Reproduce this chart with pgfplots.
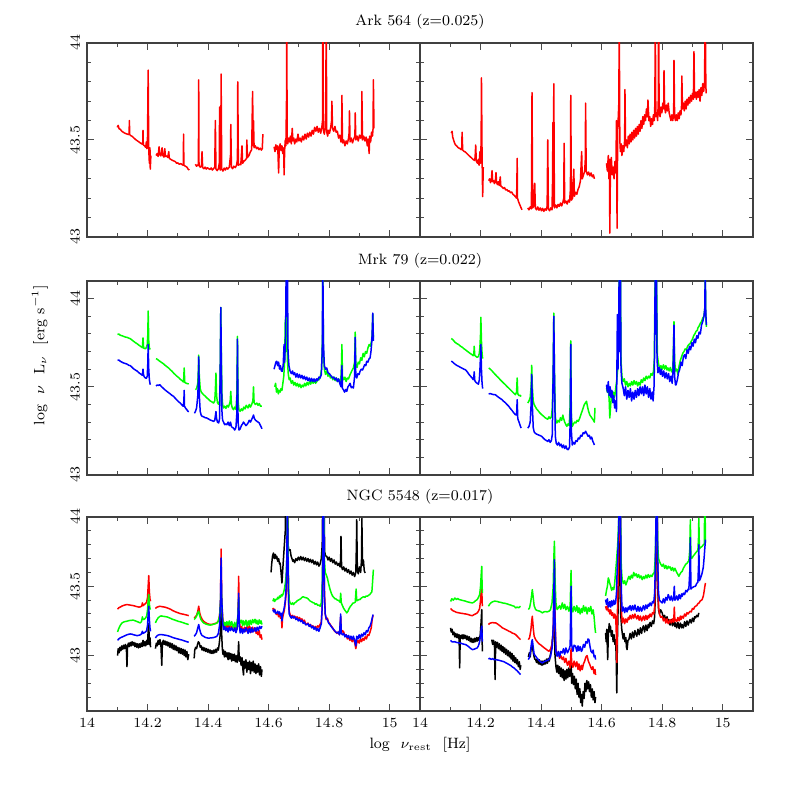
\documentclass[border=0pt]{standalone}
\usepackage{pgfplots}
\pgfplotsset{compat=1.18}

\pgfplotsset{
  panel/.style={
    scale only axis, width=166.5pt, height=97pt,
    xmin=14, xmax=15.1,
    xtick={14,14.2,14.4,14.6,14.8,15},
    minor xtick={14.1,14.3,14.5,14.7,14.9},
    xticklabels={}, yticklabels={},
    major tick length=3.5pt, minor tick length=1.8pt,
    tick style={black!70, line width=0.5pt},
    axis line style={black!75, line width=0.55pt},
    unbounded coords=jump,
    every axis plot/.append style={line width=0.75pt, line join=round},
    tick label style={font=\fontsize{7}{8}\selectfont},
    yticklabel style={rotate=90, anchor=south},
  },
  rowtop/.style={ymin=43, ymax=44, ytick={43,43.5,44},
    minor ytick={43.1,43.2,43.3,43.4,43.6,43.7,43.8,43.9}},
  rowmid/.style={ymin=43, ymax=44.1, ytick={43,43.5,44},
    minor ytick={43.1,43.2,43.3,43.4,43.6,43.7,43.8,43.9}},
  rowbot/.style={ymin=42.6, ymax=44, ytick={43,43.5,44},
    minor ytick={42.7,42.8,42.9,43.1,43.2,43.3,43.4,43.6,43.7,43.8,43.9}},
  ylab/.style={yticklabels={43,43.5,44}},
  xlab/.style={xticklabels={14,14.2,14.4,14.6,14.8,15}},
}

\begin{document}
\begin{tikzpicture}
\path[use as bounding box] (0,0) rectangle (398.5pt,398.5pt);

% ---------- Ark 564 ----------
\begin{axis}[panel, rowtop, ylab, at={(43.5pt,280pt)}, anchor=south west]
\addplot[red] coordinates {
(14.100,43.565)(14.103,43.575)(14.106,43.558)(14.110,43.555)(14.115,43.545)(14.120,43.540)(14.125,43.535)(14.130,43.532)(14.137,43.528)(14.139,43.530)(14.140,43.600)(14.141,43.528)(14.145,43.522)(14.150,43.518)(14.155,43.510)(14.160,43.503)(14.165,43.497)(14.170,43.492)(14.175,43.486)(14.180,43.481)(14.184,43.478)(14.185,43.550)(14.186,43.475)(14.190,43.470)(14.194,43.462)(14.196,43.490)(14.198,43.455)(14.200,43.520)(14.202,43.860)(14.204,43.450)(14.206,43.380)(14.208,43.460)(14.209,43.350)(14.211,43.420)
(14.215,nan)
(14.228,43.420)(14.232,43.430)(14.235,43.415)(14.238,43.465)(14.240,43.425)(14.244,43.418)(14.248,43.460)(14.250,43.422)(14.254,43.412)(14.257,43.455)(14.259,43.415)(14.263,43.418)(14.267,43.410)(14.270,43.440)(14.272,43.405)(14.277,43.400)(14.282,43.395)(14.287,43.392)(14.292,43.388)(14.296,43.380)(14.300,43.382)(14.305,43.375)(14.310,43.378)(14.315,43.372)(14.318,43.370)(14.319,43.530)(14.320,43.370)(14.325,43.365)(14.330,43.360)(14.334,43.350)(14.338,43.345)
(14.345,nan)
(14.358,43.375)(14.362,43.365)(14.366,43.372)(14.368,43.370)(14.369,43.810)(14.370,43.368)(14.374,43.360)(14.378,43.365)(14.380,43.440)(14.382,43.358)(14.386,43.352)(14.390,43.360)(14.394,43.350)(14.398,43.357)(14.402,43.352)(14.406,43.348)(14.410,43.356)(14.414,43.345)(14.418,43.352)(14.422,43.360)(14.424,43.600)(14.426,43.350)(14.430,43.342)(14.434,43.352)(14.437,43.380)(14.438,43.670)(14.440,43.345)(14.442,43.400)(14.443,43.840)(14.445,43.350)(14.449,43.340)(14.453,43.355)(14.457,43.345)(14.461,43.358)(14.465,43.350)(14.470,43.360)(14.474,43.420)(14.475,43.580)(14.477,43.360)(14.481,43.352)(14.485,43.365)(14.490,43.358)(14.494,43.370)(14.497,43.400)(14.498,43.800)(14.500,43.370)(14.504,43.375)(14.508,43.372)(14.512,43.470)(14.514,43.380)(14.518,43.390)(14.522,43.395)(14.527,43.405)(14.528,43.500)(14.530,43.410)(14.535,43.420)(14.540,43.440)(14.544,43.450)(14.547,43.750)(14.549,43.470)(14.550,43.600)(14.552,43.460)(14.556,43.470)(14.560,43.455)(14.564,43.462)(14.568,43.450)(14.572,43.458)(14.576,43.448)(14.579,43.455)(14.581,43.530)
(14.600,nan)
(14.618,43.465)(14.621,43.440)(14.624,43.475)(14.627,43.450)(14.630,43.470)(14.633,43.330)(14.635,43.455)(14.638,43.480)(14.641,43.445)(14.644,43.470)(14.647,43.430)(14.650,43.460)(14.651,43.320)(14.653,43.450)(14.655,43.500)(14.657,43.470)(14.659,43.700)(14.660,44.200)(14.661,43.520)(14.663,43.480)(14.666,43.510)(14.669,43.490)(14.672,43.520)(14.675,43.480)(14.678,43.560)(14.680,43.495)(14.683,43.510)(14.686,43.480)(14.690,43.505)(14.693,43.490)(14.697,43.530)(14.700,43.495)(14.704,43.510)(14.708,43.490)(14.712,43.520)(14.716,43.500)(14.720,43.530)(14.724,43.505)(14.728,43.535)(14.732,43.515)(14.736,43.540)(14.740,43.520)(14.744,43.550)(14.748,43.530)(14.752,43.565)(14.756,43.545)(14.760,43.570)(14.764,43.540)(14.768,43.560)(14.772,43.535)(14.776,43.570)(14.778,43.600)(14.779,44.200)(14.781,43.550)(14.784,43.530)(14.787,43.560)(14.789,43.650)(14.790,44.200)(14.792,43.540)(14.795,43.520)(14.798,43.550)(14.801,43.535)(14.805,43.565)(14.808,43.600)(14.809,43.700)(14.811,43.560)(14.815,43.545)(14.819,43.570)(14.823,43.540)(14.827,43.545)(14.831,43.510)(14.835,43.525)(14.839,43.490)(14.841,43.500)(14.842,43.730)(14.844,43.485)(14.848,43.500)(14.852,43.470)(14.856,43.495)(14.860,43.480)(14.864,43.510)(14.866,43.540)(14.867,43.650)(14.869,43.490)(14.873,43.510)(14.877,43.485)(14.881,43.505)(14.885,43.520)(14.886,43.640)(14.888,43.500)(14.892,43.520)(14.896,43.495)(14.900,43.525)(14.904,43.510)(14.907,43.530)(14.908,43.750)(14.910,43.500)(14.914,43.520)(14.918,43.495)(14.922,43.515)(14.926,43.470)(14.929,43.505)(14.932,43.430)(14.934,43.520)(14.937,43.490)(14.940,43.540)(14.943,43.520)(14.945,43.560)(14.946,43.810)(14.948,43.560)
};
\end{axis}

\begin{axis}[panel, rowtop, at={(210pt,280pt)}, anchor=south west]
\addplot[red] coordinates {
(14.103,43.535)(14.106,43.545)(14.108,43.515)(14.111,43.500)(14.114,43.485)(14.117,43.475)(14.121,43.470)(14.125,43.462)(14.129,43.458)(14.133,43.455)(14.136,43.450)(14.138,43.460)(14.139,43.540)(14.141,43.448)(14.145,43.442)(14.150,43.438)(14.155,43.430)(14.160,43.422)(14.165,43.415)(14.170,43.408)(14.175,43.400)(14.180,43.395)(14.182,43.410)(14.184,43.474)(14.186,43.390)(14.190,43.380)(14.193,43.400)(14.195,43.370)(14.198,43.440)(14.200,43.380)(14.202,43.500)(14.203,43.820)(14.205,43.420)(14.207,43.208)(14.209,43.360)
(14.215,nan)
(14.227,43.290)(14.230,43.300)(14.233,43.280)(14.236,43.300)(14.238,43.342)(14.240,43.285)(14.243,43.290)(14.246,43.275)(14.249,43.290)(14.251,43.332)(14.253,43.280)(14.256,43.270)(14.259,43.285)(14.262,43.265)(14.265,43.310)(14.267,43.262)(14.271,43.258)(14.275,43.250)(14.279,43.255)(14.283,43.242)(14.287,43.245)(14.291,43.236)(14.295,43.238)(14.299,43.228)(14.303,43.232)(14.307,43.220)(14.311,43.215)(14.315,43.208)(14.319,43.200)(14.320,43.280)(14.321,43.405)(14.322,43.200)(14.326,43.180)(14.330,43.165)(14.334,43.150)(14.337,43.140)
(14.345,nan)
(14.356,43.150)(14.360,43.140)(14.364,43.155)(14.368,43.145)(14.370,43.744)(14.372,43.150)(14.376,43.160)(14.379,43.277)(14.381,43.150)(14.385,43.140)(14.389,43.155)(14.393,43.138)(14.397,43.150)(14.401,43.135)(14.405,43.148)(14.409,43.132)(14.413,43.145)(14.417,43.138)(14.420,43.160)(14.422,43.500)(14.424,43.145)(14.428,43.135)(14.432,43.150)(14.436,43.140)(14.438,43.300)(14.439,43.590)(14.440,43.160)(14.442,43.790)(14.444,43.150)(14.448,43.165)(14.452,43.150)(14.456,43.168)(14.460,43.158)(14.464,43.175)(14.468,43.160)(14.472,43.180)(14.475,43.200)(14.476,43.483)(14.478,43.175)(14.482,43.185)(14.486,43.170)(14.490,43.190)(14.494,43.180)(14.497,43.250)(14.498,43.730)(14.500,43.190)(14.504,43.200)(14.508,43.350)(14.510,43.210)(14.514,43.230)(14.518,43.220)(14.522,43.245)(14.526,43.260)(14.530,43.290)(14.534,43.440)(14.536,43.300)(14.540,43.320)(14.544,43.340)(14.546,43.400)(14.547,43.690)(14.549,43.340)(14.553,43.320)(14.557,43.335)(14.561,43.315)(14.565,43.330)(14.569,43.310)(14.573,43.320)(14.576,43.300)
(14.600,nan)
(14.616,43.380)(14.619,43.340)(14.622,43.420)(14.624,43.300)(14.626,43.400)(14.627,43.020)(14.629,43.350)(14.632,43.410)(14.635,43.320)(14.638,43.360)(14.641,43.300)(14.644,43.390)(14.647,43.330)(14.649,43.600)(14.651,43.045)(14.653,43.550)(14.655,43.620)(14.657,43.700)(14.658,44.200)(14.660,43.500)(14.662,43.440)(14.665,43.480)(14.667,43.420)(14.670,43.470)(14.673,43.440)(14.676,43.500)(14.677,43.760)(14.679,43.470)(14.682,43.500)(14.685,43.460)(14.688,43.520)(14.691,43.480)(14.694,43.530)(14.697,43.490)(14.700,43.540)(14.703,43.500)(14.706,43.550)(14.709,43.510)(14.712,43.560)(14.715,43.520)(14.718,43.570)(14.721,43.530)(14.724,43.580)(14.727,43.545)(14.730,43.600)(14.733,43.560)(14.736,43.620)(14.739,43.580)(14.742,43.630)(14.745,43.600)(14.748,43.660)(14.751,43.620)(14.753,43.706)(14.756,43.600)(14.759,43.620)(14.762,43.570)(14.765,43.610)(14.768,43.580)(14.771,43.630)(14.774,43.600)(14.776,43.700)(14.777,44.200)(14.779,43.620)(14.782,43.640)(14.785,43.600)(14.787,43.700)(14.788,44.200)(14.790,43.640)(14.793,43.620)(14.796,43.670)(14.799,43.640)(14.802,43.690)(14.805,43.660)(14.806,43.857)(14.808,43.670)(14.811,43.640)(14.814,43.680)(14.817,43.650)(14.820,43.690)(14.823,43.640)(14.826,43.620)(14.829,43.600)(14.832,43.630)(14.835,43.600)(14.838,43.640)(14.839,43.910)(14.841,43.620)(14.844,43.600)(14.847,43.630)(14.850,43.600)(14.853,43.640)(14.856,43.610)(14.859,43.650)(14.862,43.630)(14.864,43.680)(14.865,43.830)(14.867,43.660)(14.870,43.690)(14.873,43.650)(14.876,43.700)(14.879,43.660)(14.882,43.710)(14.885,43.680)(14.888,43.720)(14.891,43.690)(14.894,43.730)(14.897,43.700)(14.900,43.740)(14.903,43.710)(14.905,43.955)(14.907,43.720)(14.910,43.745)(14.913,43.710)(14.916,43.750)(14.919,43.720)(14.922,43.760)(14.925,43.700)(14.928,43.770)(14.931,43.730)(14.934,43.790)(14.937,43.750)(14.940,43.800)(14.942,44.200)(14.944,43.820)(14.945,43.740)
};
\end{axis}

% ---------- Mrk 79 ----------
\begin{axis}[panel, rowmid, ylab, at={(43.5pt,161pt)}, anchor=south west]
\addplot[green] coordinates {
(14.101,43.796)(14.105,43.800)(14.110,43.792)(14.115,43.790)(14.121,43.786)(14.127,43.782)(14.133,43.780)(14.138,43.776)(14.143,43.773)(14.148,43.766)(14.154,43.758)(14.160,43.750)(14.165,43.745)(14.170,43.738)(14.175,43.732)(14.180,43.726)(14.183,43.722)(14.185,43.777)(14.187,43.720)(14.190,43.718)(14.193,43.716)(14.196,43.722)(14.199,43.740)(14.201,43.800)(14.202,43.930)(14.204,43.760)(14.206,43.720)(14.209,43.712)
(14.215,nan)
(14.228,43.660)(14.233,43.655)(14.238,43.648)(14.243,43.642)(14.248,43.636)(14.253,43.630)(14.258,43.622)(14.264,43.614)(14.270,43.606)(14.275,43.597)(14.281,43.588)(14.286,43.578)(14.292,43.568)(14.297,43.560)(14.303,43.552)(14.308,43.543)(14.314,43.535)(14.319,43.527)(14.321,43.607)(14.323,43.525)(14.328,43.520)(14.332,43.518)(14.336,43.516)
(14.345,nan)
(14.358,43.484)(14.362,43.490)(14.366,43.520)(14.368,43.600)(14.369,43.680)(14.371,43.560)(14.374,43.490)(14.377,43.472)(14.380,43.465)(14.385,43.455)(14.390,43.448)(14.396,43.437)(14.401,43.430)(14.407,43.420)(14.413,43.414)(14.418,43.408)(14.422,43.420)(14.424,43.480)(14.426,43.578)(14.428,43.450)(14.431,43.410)(14.435,43.400)(14.438,43.420)(14.440,43.600)(14.442,43.950)(14.444,43.650)(14.446,43.450)(14.448,43.400)(14.451,43.380)(14.455,43.390)(14.459,43.378)(14.463,43.395)(14.467,43.385)(14.471,43.405)(14.473,43.418)(14.475,43.474)(14.477,43.400)(14.480,43.380)(14.484,43.370)(14.488,43.385)(14.492,43.372)(14.495,43.450)(14.497,43.786)(14.499,43.420)(14.502,43.370)(14.506,43.361)(14.510,43.375)(14.514,43.365)(14.518,43.385)(14.522,43.375)(14.526,43.395)(14.528,43.390)(14.532,43.380)(14.536,43.400)(14.540,43.385)(14.544,43.400)(14.548,43.420)(14.550,43.500)(14.552,43.410)(14.556,43.400)(14.561,43.408)(14.565,43.395)(14.569,43.405)(14.573,43.390)(14.578,43.390)
(14.600,nan)
(14.620,43.500)(14.623,43.520)(14.626,43.470)(14.629,43.490)(14.632,43.460)(14.635,43.480)(14.638,43.470)(14.641,43.490)(14.644,43.480)(14.647,43.520)(14.650,43.560)(14.653,43.650)(14.655,43.880)(14.657,43.700)(14.659,43.900)(14.660,44.200)(14.662,43.650)(14.665,43.570)(14.668,43.540)(14.671,43.550)(14.675,43.520)(14.679,43.535)(14.683,43.510)(14.687,43.525)(14.691,43.505)(14.695,43.520)(14.699,43.500)(14.703,43.515)(14.707,43.495)(14.711,43.510)(14.715,43.500)(14.719,43.520)(14.723,43.505)(14.727,43.525)(14.731,43.510)(14.735,43.530)(14.739,43.515)(14.743,43.535)(14.747,43.520)(14.751,43.535)(14.755,43.520)(14.759,43.530)(14.763,43.545)(14.767,43.540)(14.771,43.560)(14.775,43.600)(14.778,43.800)(14.779,44.200)(14.781,43.700)(14.784,43.600)(14.788,43.570)(14.792,43.590)(14.796,43.560)(14.800,43.575)(14.804,43.550)(14.808,43.560)(14.812,43.540)(14.816,43.555)(14.820,43.535)(14.824,43.550)(14.828,43.530)(14.832,43.540)(14.836,43.520)(14.839,43.560)(14.841,43.640)(14.842,43.740)(14.844,43.560)(14.848,43.540)(14.852,43.555)(14.856,43.530)(14.860,43.550)(14.864,43.545)(14.868,43.565)(14.872,43.580)(14.876,43.595)(14.880,43.607)(14.884,43.640)(14.886,43.810)(14.888,43.620)(14.892,43.610)(14.896,43.640)(14.900,43.630)(14.904,43.665)(14.908,43.650)(14.912,43.690)(14.916,43.670)(14.920,43.700)(14.924,43.690)(14.928,43.720)(14.932,43.740)(14.936,43.730)(14.940,43.760)(14.942,43.800)(14.944,43.910)(14.946,43.780)
};
\addplot[blue] coordinates {
(14.101,43.650)(14.105,43.652)(14.110,43.645)(14.115,43.640)(14.121,43.635)(14.127,43.632)(14.133,43.628)(14.138,43.622)(14.143,43.620)(14.148,43.612)(14.154,43.602)(14.160,43.595)(14.165,43.590)(14.170,43.582)(14.175,43.575)(14.180,43.570)(14.183,43.565)(14.185,43.600)(14.187,43.565)(14.190,43.555)(14.193,43.550)(14.196,43.548)(14.199,43.560)(14.201,43.640)(14.202,43.740)(14.204,43.600)(14.206,43.540)(14.208,43.520)(14.209,43.512)
(14.215,nan)
(14.228,43.505)(14.232,43.510)(14.236,43.508)(14.240,43.512)(14.244,43.505)(14.248,43.498)(14.253,43.490)(14.258,43.482)(14.264,43.474)(14.270,43.466)(14.275,43.460)(14.280,43.452)(14.286,43.446)(14.291,43.436)(14.297,43.425)(14.302,43.416)(14.308,43.408)(14.313,43.398)(14.318,43.390)(14.320,43.420)(14.321,43.480)(14.322,43.390)(14.326,43.378)(14.330,43.370)(14.333,43.362)(14.336,43.358)
(14.345,nan)
(14.355,43.350)(14.358,43.360)(14.362,43.380)(14.366,43.450)(14.368,43.550)(14.369,43.670)(14.371,43.450)(14.374,43.360)(14.377,43.340)(14.380,43.333)(14.385,43.330)(14.390,43.325)(14.396,43.323)(14.401,43.318)(14.407,43.312)(14.413,43.308)(14.418,43.304)(14.422,43.310)(14.426,43.360)(14.428,43.320)(14.431,43.300)(14.435,43.295)(14.438,43.320)(14.440,43.600)(14.442,43.950)(14.444,43.600)(14.446,43.350)(14.448,43.310)(14.451,43.300)(14.455,43.285)(14.459,43.290)(14.462,43.285)(14.466,43.300)(14.470,43.280)(14.474,43.300)(14.477,43.275)(14.480,43.270)(14.484,43.266)(14.488,43.255)(14.492,43.270)(14.495,43.350)(14.497,43.770)(14.499,43.300)(14.502,43.255)(14.506,43.262)(14.510,43.280)(14.514,43.290)(14.517,43.300)(14.521,43.290)(14.525,43.280)(14.528,43.285)(14.532,43.295)(14.536,43.310)(14.540,43.300)(14.544,43.315)(14.548,43.330)(14.550,43.340)(14.553,43.320)(14.557,43.310)(14.561,43.305)(14.565,43.300)(14.569,43.295)(14.573,43.280)(14.576,43.270)(14.578,43.262)
(14.600,nan)
(14.618,43.600)(14.621,43.620)(14.624,43.640)(14.627,43.645)(14.630,43.620)(14.633,43.640)(14.636,43.600)(14.639,43.620)(14.642,43.590)(14.645,43.588)(14.648,43.620)(14.651,43.740)(14.653,43.640)(14.656,43.800)(14.658,44.200)(14.660,43.900)(14.662,44.200)(14.664,43.700)(14.667,43.620)(14.671,43.588)(14.675,43.575)(14.679,43.590)(14.682,43.569)(14.686,43.580)(14.690,43.555)(14.694,43.575)(14.698,43.552)(14.702,43.570)(14.706,43.550)(14.710,43.565)(14.714,43.545)(14.718,43.560)(14.722,43.540)(14.726,43.555)(14.730,43.535)(14.734,43.550)(14.738,43.530)(14.742,43.548)(14.746,43.530)(14.750,43.545)(14.754,43.528)(14.758,43.545)(14.762,43.535)(14.766,43.555)(14.770,43.550)(14.774,43.570)(14.777,43.700)(14.779,44.200)(14.781,43.750)(14.784,43.620)(14.788,43.600)(14.792,43.607)(14.796,43.580)(14.800,43.575)(14.803,43.569)(14.807,43.560)(14.811,43.550)(14.815,43.555)(14.819,43.540)(14.823,43.550)(14.827,43.530)(14.831,43.545)(14.835,43.520)(14.839,43.500)(14.842,43.620)(14.844,43.490)(14.847,43.484)(14.851,43.470)(14.855,43.485)(14.858,43.474)(14.862,43.500)(14.866,43.510)(14.869,43.520)(14.873,43.495)(14.877,43.500)(14.880,43.493)(14.884,43.560)(14.886,43.780)(14.888,43.560)(14.891,43.550)(14.895,43.575)(14.899,43.570)(14.902,43.588)(14.906,43.600)(14.910,43.595)(14.913,43.607)(14.917,43.625)(14.921,43.620)(14.924,43.645)(14.928,43.640)(14.932,43.660)(14.935,43.663)(14.938,43.700)(14.941,43.760)(14.943,43.860)(14.944,43.918)(14.946,43.760)
};
\end{axis}

\begin{axis}[panel, rowmid, at={(210pt,161pt)}, anchor=south west]
\addplot[green] coordinates {
(14.103,43.773)(14.107,43.770)(14.111,43.762)(14.116,43.752)(14.121,43.746)(14.128,43.739)(14.134,43.730)(14.140,43.724)(14.145,43.716)(14.150,43.710)(14.156,43.702)(14.162,43.694)(14.167,43.688)(14.172,43.682)(14.176,43.676)(14.178,43.690)(14.179,43.730)(14.181,43.678)(14.185,43.672)(14.189,43.667)(14.193,43.672)(14.196,43.690)(14.198,43.730)(14.200,43.800)(14.201,43.894)(14.203,43.760)(14.205,43.690)(14.207,43.660)
(14.215,nan)
(14.227,43.607)(14.232,43.600)(14.238,43.590)(14.243,43.580)(14.249,43.569)(14.254,43.560)(14.260,43.550)(14.265,43.540)(14.271,43.530)(14.276,43.521)(14.282,43.512)(14.287,43.502)(14.293,43.493)(14.298,43.484)(14.304,43.474)(14.309,43.465)(14.315,43.455)(14.319,43.470)(14.321,43.550)(14.323,43.460)(14.327,43.450)(14.331,43.452)(14.334,43.445)
(14.345,nan)
(14.356,43.408)(14.360,43.420)(14.364,43.440)(14.367,43.500)(14.369,43.622)(14.371,43.500)(14.374,43.420)(14.377,43.400)(14.380,43.390)(14.385,43.375)(14.390,43.365)(14.396,43.352)(14.402,43.342)(14.407,43.335)(14.413,43.325)(14.418,43.320)(14.422,43.316)(14.426,43.330)(14.430,43.320)(14.434,43.330)(14.437,43.380)(14.440,43.600)(14.442,43.918)(14.444,43.600)(14.447,43.330)(14.450,43.300)(14.452,43.295)(14.456,43.310)(14.460,43.300)(14.464,43.325)(14.468,43.310)(14.472,43.340)(14.474,43.322)(14.478,43.300)(14.482,43.285)(14.485,43.276)(14.489,43.290)(14.493,43.280)(14.496,43.400)(14.498,43.760)(14.500,43.330)(14.503,43.276)(14.507,43.290)(14.511,43.300)(14.515,43.295)(14.519,43.310)(14.523,43.304)(14.527,43.320)(14.531,43.340)(14.535,43.360)(14.539,43.380)(14.543,43.400)(14.547,43.410)(14.550,43.418)(14.553,43.390)(14.557,43.360)(14.561,43.340)(14.565,43.330)(14.569,43.320)(14.573,43.310)(14.576,43.300)(14.578,43.380)
(14.600,nan)
(14.616,43.493)(14.619,43.470)(14.622,43.500)(14.625,43.420)(14.627,43.323)(14.630,43.400)(14.633,43.460)(14.636,43.430)(14.639,43.470)(14.642,43.440)(14.644,43.455)(14.647,43.500)(14.650,43.540)(14.653,43.600)(14.656,43.800)(14.658,44.200)(14.660,43.900)(14.662,44.200)(14.664,43.650)(14.667,43.560)(14.671,43.530)(14.675,43.545)(14.679,43.510)(14.683,43.530)(14.687,43.500)(14.691,43.520)(14.695,43.505)(14.699,43.530)(14.703,43.510)(14.707,43.535)(14.711,43.515)(14.715,43.530)(14.719,43.505)(14.723,43.525)(14.727,43.510)(14.731,43.540)(14.735,43.525)(14.739,43.550)(14.743,43.535)(14.747,43.560)(14.751,43.545)(14.755,43.560)(14.759,43.550)(14.763,43.575)(14.767,43.565)(14.771,43.585)(14.774,43.650)(14.777,44.200)(14.779,43.800)(14.781,44.200)(14.784,43.680)(14.788,43.630)(14.792,43.600)(14.796,43.620)(14.800,43.600)(14.804,43.625)(14.808,43.600)(14.812,43.620)(14.816,43.595)(14.819,43.607)(14.823,43.590)(14.827,43.610)(14.831,43.585)(14.835,43.600)(14.837,43.700)(14.839,43.870)(14.841,43.650)(14.844,43.590)(14.848,43.600)(14.852,43.570)(14.856,43.620)(14.860,43.650)(14.864,43.670)(14.868,43.690)(14.872,43.700)(14.876,43.715)(14.880,43.710)(14.884,43.730)(14.888,43.740)(14.892,43.745)(14.896,43.758)(14.900,43.770)(14.904,43.790)(14.908,43.800)(14.912,43.815)(14.916,43.820)(14.918,43.834)(14.922,43.845)(14.926,43.860)(14.930,43.870)(14.934,43.890)(14.938,43.900)(14.941,43.950)(14.942,44.200)(14.944,43.900)(14.946,43.840)
};
\addplot[blue] coordinates {
(14.103,43.645)(14.107,43.642)(14.111,43.635)(14.116,43.628)(14.121,43.622)(14.128,43.616)(14.134,43.610)(14.140,43.605)(14.145,43.600)(14.150,43.597)(14.156,43.585)(14.162,43.570)(14.167,43.560)(14.172,43.550)(14.176,43.540)(14.178,43.560)(14.179,43.585)(14.181,43.535)(14.185,43.525)(14.189,43.520)(14.193,43.515)(14.196,43.540)(14.198,43.600)(14.200,43.680)(14.201,43.740)(14.203,43.600)(14.205,43.520)(14.207,43.490)
(14.215,nan)
(14.227,43.459)(14.232,43.462)(14.238,43.458)(14.243,43.456)(14.249,43.455)(14.254,43.448)(14.260,43.440)(14.265,43.434)(14.271,43.427)(14.276,43.418)(14.282,43.410)(14.287,43.400)(14.293,43.390)(14.298,43.378)(14.304,43.366)(14.309,43.354)(14.315,43.342)(14.319,43.340)(14.321,43.427)(14.323,43.320)(14.327,43.300)(14.331,43.280)(14.334,43.266)
(14.345,nan)
(14.356,43.266)(14.360,43.275)(14.364,43.300)(14.367,43.400)(14.369,43.570)(14.371,43.400)(14.374,43.270)(14.377,43.245)(14.380,43.238)(14.385,43.232)(14.390,43.228)(14.396,43.224)(14.402,43.219)(14.407,43.210)(14.413,43.200)(14.418,43.195)(14.422,43.190)(14.426,43.200)(14.430,43.185)(14.434,43.195)(14.437,43.230)(14.440,43.600)(14.442,43.900)(14.444,43.600)(14.447,43.220)(14.450,43.180)(14.454,43.170)(14.458,43.185)(14.462,43.165)(14.466,43.175)(14.470,43.155)(14.474,43.170)(14.478,43.150)(14.482,43.165)(14.486,43.145)(14.490,43.144)(14.494,43.160)(14.496,43.300)(14.498,43.740)(14.500,43.250)(14.503,43.170)(14.507,43.185)(14.511,43.175)(14.515,43.195)(14.519,43.190)(14.523,43.210)(14.527,43.205)(14.531,43.225)(14.535,43.220)(14.539,43.240)(14.543,43.235)(14.547,43.248)(14.551,43.235)(14.555,43.220)(14.559,43.225)(14.563,43.205)(14.567,43.215)(14.571,43.190)(14.574,43.180)(14.576,43.170)
(14.600,nan)
(14.616,43.512)(14.619,43.470)(14.622,43.530)(14.625,43.450)(14.628,43.500)(14.631,43.440)(14.634,43.480)(14.637,43.410)(14.640,43.450)(14.643,43.380)(14.646,43.420)(14.649,43.360)(14.651,43.700)(14.652,43.910)(14.654,43.600)(14.656,43.800)(14.658,44.200)(14.660,43.700)(14.662,44.200)(14.664,43.600)(14.667,43.520)(14.671,43.493)(14.675,43.450)(14.679,43.500)(14.683,43.430)(14.687,43.480)(14.691,43.440)(14.695,43.490)(14.699,43.420)(14.703,43.470)(14.707,43.430)(14.711,43.480)(14.715,43.440)(14.719,43.490)(14.723,43.450)(14.727,43.500)(14.731,43.460)(14.735,43.500)(14.739,43.450)(14.743,43.510)(14.747,43.460)(14.751,43.500)(14.755,43.440)(14.759,43.490)(14.763,43.430)(14.767,43.470)(14.770,43.420)(14.773,43.500)(14.775,43.700)(14.777,44.200)(14.779,43.800)(14.781,44.200)(14.783,43.650)(14.786,43.580)(14.790,43.610)(14.794,43.570)(14.797,43.600)(14.801,43.560)(14.805,43.590)(14.809,43.550)(14.813,43.580)(14.817,43.545)(14.821,43.575)(14.825,43.530)(14.829,43.560)(14.833,43.520)(14.836,43.600)(14.839,43.850)(14.841,43.560)(14.844,43.510)(14.846,43.512)(14.850,43.540)(14.854,43.580)(14.858,43.600)(14.862,43.640)(14.866,43.620)(14.870,43.670)(14.874,43.682)(14.878,43.660)(14.882,43.710)(14.886,43.690)(14.890,43.730)(14.894,43.710)(14.898,43.750)(14.902,43.730)(14.906,43.770)(14.910,43.750)(14.914,43.790)(14.918,43.775)(14.922,43.810)(14.926,43.800)(14.930,43.850)(14.934,43.870)(14.938,43.900)(14.941,43.950)(14.942,44.200)(14.944,43.920)(14.946,43.850)
};
\end{axis}

% ---------- NGC 5548 ----------
\begin{axis}[panel, rowbot, ylab, xlab, at={(43.5pt,43pt)}, anchor=south west]
\addplot[black] coordinates {
(14.101,43.000)(14.103,43.050)(14.106,43.020)(14.109,43.060)(14.112,43.035)(14.115,43.070)(14.118,43.045)(14.121,43.075)(14.124,43.050)(14.127,43.080)(14.130,43.060)(14.132,42.920)(14.134,43.070)(14.137,43.090)(14.140,43.065)(14.143,43.095)(14.146,43.070)(14.149,43.100)(14.152,43.075)(14.155,43.095)(14.158,43.065)(14.161,43.090)(14.164,43.060)(14.167,43.085)(14.170,43.055)(14.173,43.085)(14.176,43.060)(14.179,43.090)(14.182,43.065)(14.185,43.110)(14.188,43.070)(14.191,43.100)(14.194,43.070)(14.197,43.110)(14.200,43.080)(14.202,43.180)(14.204,43.230)(14.206,43.080)(14.208,43.130)(14.210,43.060)
(14.215,nan)
(14.226,43.050)(14.229,43.090)(14.232,43.070)(14.235,43.110)(14.238,43.080)(14.241,43.115)(14.244,43.085)(14.247,42.930)(14.249,43.090)(14.252,43.110)(14.255,43.080)(14.258,43.105)(14.261,43.075)(14.264,43.100)(14.267,43.070)(14.270,43.095)(14.273,43.060)(14.276,43.090)(14.279,43.055)(14.282,43.085)(14.285,43.045)(14.288,43.075)(14.291,43.040)(14.294,43.070)(14.297,43.035)(14.300,43.060)(14.303,43.020)(14.306,43.055)(14.309,43.015)(14.312,43.050)(14.315,43.010)(14.318,43.045)(14.321,43.000)(14.324,43.040)(14.327,42.990)(14.330,43.030)(14.333,42.970)(14.336,43.010)
(14.345,nan)
(14.354,42.980)(14.356,43.040)(14.359,43.060)(14.362,43.050)(14.365,43.080)(14.368,43.100)(14.371,43.090)(14.374,43.060)(14.377,43.070)(14.380,43.040)(14.383,43.060)(14.386,43.035)(14.389,43.055)(14.392,43.030)(14.395,43.050)(14.398,43.025)(14.401,43.045)(14.404,43.020)(14.407,43.040)(14.410,43.015)(14.413,43.035)(14.416,43.015)(14.419,43.040)(14.422,43.020)(14.425,43.045)(14.428,43.025)(14.431,43.055)(14.434,43.040)(14.437,43.090)(14.440,43.150)(14.442,43.300)(14.443,43.360)(14.445,43.150)(14.447,43.050)(14.449,43.010)(14.451,43.040)(14.454,42.990)(14.457,43.030)(14.460,42.990)(14.463,43.020)(14.466,42.970)(14.469,43.020)(14.472,42.975)(14.475,43.015)(14.478,42.960)(14.481,43.010)(14.484,42.965)(14.487,43.010)(14.490,42.955)(14.493,43.000)(14.496,42.950)(14.499,43.010)(14.501,43.100)(14.503,42.960)(14.506,42.990)(14.509,42.930)(14.512,42.985)(14.515,42.900)(14.517,42.860)(14.519,42.960)(14.522,42.910)(14.525,42.970)(14.528,42.880)(14.531,42.950)(14.534,42.900)(14.537,42.960)(14.540,42.870)(14.543,42.950)(14.546,42.890)(14.549,42.960)(14.552,42.880)(14.555,42.940)(14.558,42.870)(14.561,42.930)(14.564,42.880)(14.567,42.940)(14.570,42.860)(14.573,42.920)(14.576,42.850)(14.578,42.900)
(14.595,nan)
(14.608,43.600)(14.610,43.660)(14.613,43.720)(14.616,43.740)(14.619,43.700)(14.622,43.730)(14.625,43.700)(14.627,43.716)(14.630,43.680)(14.633,43.700)(14.636,43.660)(14.638,43.668)(14.641,43.600)(14.644,43.524)(14.646,43.600)(14.649,43.700)(14.652,43.800)(14.655,43.900)(14.657,44.200)(14.660,43.900)(14.662,44.200)(14.664,43.800)(14.667,43.760)(14.671,43.764)(14.674,43.720)(14.677,43.700)(14.680,43.680)(14.682,43.692)(14.686,43.670)(14.690,43.700)(14.694,43.685)(14.698,43.710)(14.702,43.690)(14.706,43.715)(14.710,43.690)(14.714,43.710)(14.718,43.685)(14.722,43.705)(14.726,43.680)(14.730,43.700)(14.734,43.675)(14.738,43.695)(14.742,43.670)(14.746,43.690)(14.750,43.660)(14.754,43.680)(14.758,43.655)(14.762,43.675)(14.766,43.645)(14.770,43.660)(14.774,43.700)(14.777,43.800)(14.779,44.200)(14.781,43.900)(14.783,44.200)(14.785,43.750)(14.788,43.720)(14.792,43.716)(14.796,43.690)(14.800,43.710)(14.804,43.680)(14.808,43.700)(14.812,43.670)(14.816,43.690)(14.820,43.660)(14.824,43.675)(14.828,43.650)(14.832,43.665)(14.836,43.640)(14.838,43.700)(14.839,43.860)(14.841,43.640)(14.844,43.620)(14.848,43.640)(14.852,43.610)(14.856,43.630)(14.860,43.600)(14.864,43.620)(14.868,43.590)(14.872,43.610)(14.876,43.580)(14.880,43.600)(14.884,43.570)(14.888,43.600)(14.890,43.800)(14.891,43.980)(14.893,43.620)(14.896,43.590)(14.900,43.640)(14.904,43.600)(14.907,43.700)(14.908,43.990)(14.910,43.650)(14.913,43.690)(14.916,43.610)(14.919,43.596)
};
\addplot[red] coordinates {
(14.101,43.335)(14.105,43.345)(14.110,43.350)(14.116,43.358)(14.121,43.362)(14.127,43.366)(14.132,43.368)(14.138,43.366)(14.143,43.364)(14.149,43.362)(14.154,43.360)(14.160,43.356)(14.165,43.353)(14.171,43.350)(14.176,43.351)(14.181,43.358)(14.183,43.380)(14.185,43.360)(14.189,43.368)(14.193,43.375)(14.197,43.385)(14.200,43.420)(14.202,43.500)(14.204,43.577)(14.206,43.460)(14.208,43.410)(14.210,43.392)
(14.215,nan)
(14.226,43.340)(14.230,43.348)(14.235,43.352)(14.240,43.356)(14.245,43.354)(14.250,43.352)(14.256,43.350)(14.261,43.347)(14.266,43.343)(14.272,43.338)(14.277,43.333)(14.282,43.326)(14.288,43.320)(14.293,43.315)(14.298,43.311)(14.303,43.307)(14.308,43.303)(14.314,43.300)(14.319,43.298)(14.324,43.295)(14.330,43.292)(14.336,43.288)
(14.345,nan)
(14.354,43.272)(14.358,43.280)(14.362,43.290)(14.366,43.320)(14.369,43.356)(14.372,43.310)(14.376,43.280)(14.380,43.262)(14.385,43.248)(14.390,43.240)(14.396,43.232)(14.401,43.228)(14.407,43.224)(14.412,43.225)(14.418,43.228)(14.424,43.232)(14.429,43.236)(14.434,43.250)(14.438,43.290)(14.441,43.400)(14.443,43.769)(14.445,43.420)(14.448,43.280)(14.451,43.224)(14.455,43.195)(14.458,43.230)(14.462,43.200)(14.466,43.225)(14.470,43.195)(14.474,43.220)(14.478,43.200)(14.484,43.212)(14.488,43.185)(14.492,43.220)(14.496,43.190)(14.499,43.300)(14.501,43.572)(14.503,43.250)(14.507,43.190)(14.511,43.210)(14.514,43.180)(14.517,43.188)(14.521,43.205)(14.525,43.175)(14.529,43.210)(14.533,43.180)(14.536,43.215)(14.539,43.200)(14.543,43.170)(14.547,43.205)(14.551,43.175)(14.555,43.200)(14.559,43.160)(14.561,43.175)(14.565,43.150)(14.569,43.180)(14.572,43.130)(14.575,43.150)(14.578,43.115)
(14.600,nan)
(14.614,43.344)(14.617,43.320)(14.620,43.335)(14.623,43.305)(14.627,43.296)(14.630,43.310)(14.633,43.280)(14.636,43.300)(14.639,43.270)(14.642,43.290)(14.644,43.200)(14.646,43.270)(14.649,43.300)(14.652,43.330)(14.655,43.380)(14.658,43.450)(14.660,43.600)(14.662,44.200)(14.664,43.700)(14.666,43.400)(14.668,43.320)(14.671,43.296)(14.675,43.280)(14.679,43.290)(14.682,43.272)(14.686,43.285)(14.690,43.265)(14.694,43.280)(14.698,43.262)(14.702,43.275)(14.706,43.255)(14.710,43.265)(14.714,43.245)(14.718,43.255)(14.722,43.232)(14.726,43.224)(14.730,43.235)(14.734,43.215)(14.738,43.225)(14.742,43.205)(14.746,43.215)(14.750,43.195)(14.754,43.210)(14.758,43.195)(14.762,43.215)(14.766,43.205)(14.770,43.225)(14.774,43.240)(14.777,43.350)(14.779,43.700)(14.780,44.200)(14.782,44.200)(14.784,43.500)(14.787,43.300)(14.790,43.260)(14.794,43.270)(14.798,43.240)(14.802,43.230)(14.806,43.215)(14.810,43.205)(14.814,43.190)(14.818,43.175)(14.822,43.170)(14.826,43.160)(14.830,43.170)(14.834,43.150)(14.838,43.280)(14.840,43.160)(14.844,43.180)(14.848,43.170)(14.852,43.140)(14.856,43.150)(14.860,43.120)(14.864,43.135)(14.868,43.110)(14.872,43.125)(14.876,43.100)(14.880,43.120)(14.884,43.095)(14.888,43.050)(14.891,43.091)(14.895,43.110)(14.899,43.090)(14.903,43.120)(14.907,43.100)(14.911,43.125)(14.915,43.110)(14.919,43.135)(14.923,43.120)(14.927,43.150)(14.931,43.145)(14.935,43.170)(14.939,43.200)(14.942,43.260)(14.945,43.290)
};
\addplot[green] coordinates {
(14.101,43.170)(14.104,43.190)(14.108,43.210)(14.112,43.225)(14.116,43.236)(14.121,43.242)(14.127,43.246)(14.132,43.248)(14.138,43.252)(14.143,43.254)(14.149,43.255)(14.154,43.255)(14.160,43.250)(14.165,43.246)(14.171,43.240)(14.176,43.236)(14.180,43.245)(14.183,43.280)(14.185,43.260)(14.189,43.262)(14.193,43.270)(14.197,43.285)(14.200,43.330)(14.202,43.400)(14.204,43.440)(14.206,43.370)(14.208,43.340)(14.210,43.332)
(14.215,nan)
(14.226,43.236)(14.230,43.255)(14.235,43.272)(14.240,43.282)(14.245,43.286)(14.250,43.284)(14.256,43.282)(14.261,43.280)(14.266,43.278)(14.272,43.272)(14.277,43.268)(14.282,43.262)(14.288,43.258)(14.293,43.254)(14.298,43.250)(14.303,43.246)(14.308,43.244)(14.314,43.240)(14.319,43.236)(14.324,43.232)(14.330,43.228)(14.336,43.224)
(14.345,nan)
(14.354,43.260)(14.358,43.270)(14.362,43.285)(14.366,43.310)(14.369,43.320)(14.372,43.290)(14.376,43.262)(14.380,43.248)(14.385,43.236)(14.390,43.230)(14.396,43.225)(14.401,43.222)(14.407,43.220)(14.412,43.222)(14.418,43.226)(14.424,43.230)(14.429,43.234)(14.434,43.250)(14.438,43.284)(14.441,43.380)(14.443,43.550)(14.445,43.380)(14.448,43.260)(14.451,43.212)(14.455,43.240)(14.458,43.215)(14.462,43.245)(14.466,43.220)(14.470,43.250)(14.474,43.215)(14.478,43.245)(14.484,43.200)(14.488,43.240)(14.492,43.205)(14.496,43.245)(14.499,43.300)(14.501,43.420)(14.503,43.260)(14.507,43.236)(14.511,43.255)(14.514,43.215)(14.517,43.250)(14.521,43.220)(14.525,43.255)(14.529,43.212)(14.533,43.250)(14.536,43.220)(14.539,43.255)(14.543,43.225)(14.547,43.260)(14.551,43.236)(14.555,43.262)(14.559,43.230)(14.561,43.255)(14.565,43.225)(14.569,43.258)(14.572,43.232)(14.575,43.250)(14.578,43.224)
(14.600,nan)
(14.614,43.392)(14.617,43.410)(14.620,43.390)(14.623,43.405)(14.627,43.404)(14.630,43.420)(14.633,43.410)(14.636,43.430)(14.639,43.420)(14.642,43.440)(14.645,43.430)(14.649,43.452)(14.652,43.480)(14.655,43.520)(14.658,43.580)(14.660,43.700)(14.662,44.200)(14.664,43.800)(14.666,43.500)(14.668,43.400)(14.671,43.380)(14.675,43.370)(14.679,43.380)(14.682,43.368)(14.686,43.380)(14.690,43.385)(14.694,43.395)(14.698,43.400)(14.702,43.405)(14.706,43.410)(14.710,43.420)(14.714,43.425)(14.718,43.420)(14.722,43.418)(14.726,43.416)(14.730,43.410)(14.734,43.400)(14.738,43.392)(14.742,43.388)(14.746,43.382)(14.750,43.380)(14.754,43.370)(14.758,43.375)(14.762,43.362)(14.766,43.365)(14.770,43.356)(14.774,43.380)(14.777,43.500)(14.779,43.800)(14.780,44.200)(14.782,44.200)(14.784,43.700)(14.787,43.600)(14.790,43.584)(14.794,43.560)(14.798,43.520)(14.803,43.476)(14.807,43.450)(14.811,43.430)(14.815,43.420)(14.819,43.410)(14.823,43.408)(14.827,43.400)(14.831,43.398)(14.836,43.385)(14.838,43.450)(14.840,43.380)(14.844,43.360)(14.847,43.344)(14.851,43.330)(14.855,43.318)(14.858,43.308)(14.862,43.320)(14.866,43.340)(14.870,43.355)(14.874,43.365)(14.878,43.378)(14.882,43.380)(14.886,43.385)(14.889,43.480)(14.891,43.395)(14.895,43.400)(14.899,43.405)(14.902,43.404)(14.906,43.415)(14.910,43.420)(14.914,43.425)(14.918,43.420)(14.922,43.430)(14.926,43.428)(14.930,43.435)(14.934,43.440)(14.938,43.452)(14.941,43.460)(14.943,43.520)(14.946,43.620)
};
\addplot[blue] coordinates {
(14.101,43.110)(14.105,43.120)(14.110,43.128)(14.116,43.134)(14.121,43.139)(14.127,43.145)(14.132,43.150)(14.138,43.154)(14.143,43.156)(14.149,43.154)(14.154,43.150)(14.160,43.147)(14.165,43.144)(14.171,43.146)(14.176,43.150)(14.180,43.156)(14.183,43.175)(14.185,43.160)(14.189,43.165)(14.193,43.170)(14.197,43.180)(14.200,43.220)(14.202,43.300)(14.204,43.356)(14.206,43.260)(14.208,43.200)(14.210,43.175)
(14.215,nan)
(14.226,43.127)(14.230,43.140)(14.235,43.148)(14.240,43.151)(14.245,43.152)(14.250,43.150)(14.256,43.148)(14.261,43.146)(14.266,43.144)(14.272,43.140)(14.277,43.136)(14.282,43.131)(14.288,43.127)(14.293,43.124)(14.298,43.121)(14.303,43.118)(14.308,43.115)(14.314,43.112)(14.319,43.108)(14.324,43.104)(14.330,43.100)(14.336,43.096)
(14.345,nan)
(14.354,43.139)(14.358,43.150)(14.362,43.165)(14.366,43.200)(14.369,43.224)(14.372,43.190)(14.376,43.160)(14.380,43.145)(14.385,43.139)(14.390,43.132)(14.396,43.128)(14.401,43.126)(14.407,43.127)(14.412,43.128)(14.418,43.130)(14.424,43.134)(14.429,43.139)(14.434,43.160)(14.438,43.220)(14.441,43.400)(14.443,43.704)(14.445,43.420)(14.448,43.240)(14.451,43.188)(14.455,43.210)(14.458,43.180)(14.462,43.200)(14.466,43.170)(14.470,43.205)(14.474,43.180)(14.478,43.200)(14.484,43.175)(14.488,43.200)(14.492,43.165)(14.496,43.195)(14.499,43.300)(14.501,43.450)(14.503,43.220)(14.506,43.163)(14.510,43.195)(14.514,43.160)(14.517,43.190)(14.521,43.170)(14.525,43.200)(14.528,43.188)(14.532,43.160)(14.536,43.195)(14.540,43.165)(14.544,43.200)(14.547,43.170)(14.550,43.175)(14.554,43.200)(14.558,43.175)(14.562,43.205)(14.566,43.180)(14.570,43.210)(14.574,43.195)(14.578,43.212)
(14.600,nan)
(14.614,43.332)(14.617,43.315)(14.620,43.330)(14.623,43.305)(14.627,43.308)(14.630,43.320)(14.633,43.300)(14.636,43.315)(14.639,43.290)(14.642,43.305)(14.644,43.250)(14.646,43.300)(14.649,43.320)(14.652,43.350)(14.655,43.400)(14.658,43.500)(14.660,43.700)(14.662,44.200)(14.664,43.700)(14.666,43.380)(14.668,43.300)(14.671,43.284)(14.675,43.270)(14.679,43.285)(14.682,43.272)(14.686,43.280)(14.690,43.260)(14.694,43.270)(14.698,43.250)(14.702,43.262)(14.706,43.245)(14.710,43.255)(14.714,43.232)(14.718,43.242)(14.722,43.222)(14.726,43.224)(14.730,43.230)(14.734,43.210)(14.738,43.222)(14.742,43.200)(14.746,43.212)(14.750,43.190)(14.754,43.205)(14.758,43.180)(14.762,43.195)(14.766,43.175)(14.770,43.200)(14.774,43.230)(14.777,43.350)(14.779,43.750)(14.780,44.200)(14.782,44.200)(14.784,43.450)(14.787,43.300)(14.790,43.270)(14.794,43.260)(14.798,43.235)(14.802,43.225)(14.806,43.212)(14.810,43.200)(14.814,43.190)(14.818,43.180)(14.822,43.168)(14.826,43.163)(14.830,43.170)(14.834,43.150)(14.838,43.300)(14.840,43.160)(14.844,43.150)(14.848,43.160)(14.852,43.135)(14.856,43.150)(14.860,43.130)(14.864,43.145)(14.868,43.120)(14.872,43.140)(14.876,43.115)(14.880,43.140)(14.884,43.110)(14.888,43.070)(14.891,43.140)(14.895,43.120)(14.899,43.150)(14.903,43.125)(14.907,43.155)(14.911,43.140)(14.915,43.165)(14.919,43.150)(14.923,43.180)(14.927,43.170)(14.931,43.200)(14.935,43.212)(14.939,43.240)(14.942,43.270)(14.945,43.296)
};
\end{axis}

\begin{axis}[panel, rowbot, xlab, at={(210pt,43pt)}, anchor=south west]
\addplot[black] coordinates {
(14.101,43.200)(14.103,43.170)(14.106,43.190)(14.109,43.150)(14.112,43.170)(14.115,43.135)(14.118,43.160)(14.121,43.130)(14.124,43.155)(14.127,43.125)(14.129,43.150)(14.131,42.911)(14.133,43.145)(14.136,43.125)(14.139,43.150)(14.142,43.120)(14.145,43.150)(14.148,43.125)(14.151,43.145)(14.154,43.115)(14.157,43.140)(14.160,43.110)(14.163,43.135)(14.166,43.100)(14.169,43.125)(14.172,43.095)(14.175,43.120)(14.178,43.095)(14.181,43.125)(14.184,43.100)(14.187,43.130)(14.190,43.105)(14.193,43.130)(14.196,43.110)(14.199,43.150)(14.202,43.250)(14.204,43.332)(14.205,43.150)(14.206,43.031)
(14.215,nan)
(14.237,43.115)(14.240,43.080)(14.243,43.110)(14.246,43.070)(14.248,42.827)(14.250,43.100)(14.253,43.060)(14.256,43.095)(14.259,43.050)(14.262,43.085)(14.265,43.040)(14.268,43.075)(14.271,43.030)(14.274,43.065)(14.277,43.020)(14.280,43.055)(14.283,43.010)(14.286,43.045)(14.289,43.000)(14.292,43.035)(14.295,42.990)(14.298,43.025)(14.301,42.975)(14.304,43.015)(14.307,42.960)(14.310,43.000)(14.313,42.950)(14.316,42.985)(14.319,42.940)(14.322,42.970)(14.325,42.920)(14.328,42.955)(14.331,42.900)(14.333,42.930)
(14.345,nan)
(14.358,42.990)(14.361,43.020)(14.364,42.990)(14.367,43.050)(14.370,43.080)(14.373,43.040)(14.376,43.000)(14.379,42.975)(14.382,42.971)(14.385,42.950)(14.388,42.975)(14.391,42.940)(14.394,42.970)(14.397,42.935)(14.400,42.960)(14.403,42.930)(14.406,42.960)(14.409,42.935)(14.412,42.965)(14.415,42.940)(14.418,42.975)(14.421,42.945)(14.424,42.980)(14.427,42.960)(14.430,43.000)(14.433,43.030)(14.436,43.080)(14.439,43.150)(14.442,43.236)(14.444,43.150)(14.446,43.000)(14.449,42.920)(14.452,42.880)(14.455,42.930)(14.458,42.870)(14.461,42.920)(14.464,42.850)(14.467,42.910)(14.470,42.840)(14.473,42.900)(14.476,42.820)(14.479,42.890)(14.482,42.830)(14.485,42.900)(14.488,42.840)(14.491,42.910)(14.494,42.850)(14.497,42.880)(14.499,42.950)(14.501,42.800)(14.504,42.870)(14.507,42.790)(14.510,42.850)(14.513,42.760)(14.516,42.830)(14.519,42.720)(14.522,42.800)(14.525,42.700)(14.528,42.760)(14.531,42.660)(14.534,42.720)(14.536,42.635)(14.539,42.740)(14.542,42.690)(14.545,42.800)(14.548,42.740)(14.551,42.820)(14.554,42.760)(14.557,42.810)(14.560,42.740)(14.563,42.790)(14.566,42.700)(14.569,42.760)(14.572,42.680)(14.575,42.740)(14.578,42.660)(14.580,42.700)
(14.600,nan)
(14.613,43.163)(14.615,43.100)(14.617,43.190)(14.620,42.971)(14.622,43.150)(14.625,43.230)(14.627,43.170)(14.629,43.212)(14.632,43.140)(14.635,43.180)(14.638,43.100)(14.641,43.150)(14.644,43.080)(14.646,43.115)(14.648,43.000)(14.650,42.731)(14.652,43.100)(14.655,43.400)(14.657,43.700)(14.659,43.900)(14.661,43.600)(14.663,43.300)(14.666,43.200)(14.668,43.163)(14.671,43.120)(14.674,43.160)(14.677,43.100)(14.680,43.130)(14.682,43.060)(14.684,43.043)(14.687,43.110)(14.690,43.115)(14.694,43.160)(14.698,43.120)(14.702,43.170)(14.706,43.130)(14.710,43.180)(14.712,43.163)(14.716,43.140)(14.720,43.190)(14.724,43.150)(14.728,43.200)(14.732,43.160)(14.734,43.188)(14.738,43.215)(14.742,43.170)(14.746,43.220)(14.750,43.180)(14.754,43.225)(14.756,43.200)(14.760,43.240)(14.764,43.210)(14.768,43.250)(14.772,43.230)(14.775,43.280)(14.777,43.400)(14.779,43.700)(14.781,44.200)(14.783,44.200)(14.785,43.500)(14.788,43.330)(14.791,43.300)(14.795,43.330)(14.800,43.308)(14.804,43.270)(14.808,43.290)(14.812,43.250)(14.816,43.280)(14.820,43.240)(14.822,43.260)(14.826,43.220)(14.830,43.260)(14.834,43.215)(14.838,43.250)(14.842,43.210)(14.844,43.236)(14.848,43.200)(14.852,43.240)(14.856,43.195)(14.860,43.235)(14.864,43.200)(14.866,43.224)(14.870,43.200)(14.874,43.245)(14.878,43.210)(14.882,43.250)(14.886,43.220)(14.888,43.236)(14.892,43.260)(14.896,43.235)(14.900,43.270)(14.904,43.245)(14.907,43.280)(14.910,43.272)(14.914,43.290)(14.918,43.280)(14.921,43.308)
};
\addplot[red] coordinates {
(14.101,43.340)(14.105,43.330)(14.110,43.322)(14.115,43.318)(14.120,43.312)(14.125,43.310)(14.129,43.308)(14.134,43.306)(14.140,43.304)(14.145,43.302)(14.151,43.300)(14.156,43.298)(14.162,43.294)(14.167,43.290)(14.173,43.288)(14.178,43.295)(14.183,43.300)(14.189,43.308)(14.193,43.320)(14.197,43.340)(14.200,43.400)(14.202,43.470)(14.204,43.524)(14.205,43.400)(14.206,43.356)
(14.215,nan)
(14.226,43.224)(14.230,43.232)(14.235,43.236)(14.240,43.238)(14.245,43.236)(14.250,43.236)(14.256,43.228)(14.261,43.220)(14.267,43.210)(14.272,43.200)(14.278,43.194)(14.283,43.188)(14.289,43.182)(14.294,43.175)(14.300,43.170)(14.305,43.162)(14.311,43.158)(14.316,43.151)(14.321,43.140)(14.326,43.128)(14.332,43.115)
(14.345,nan)
(14.358,43.115)(14.362,43.130)(14.366,43.180)(14.369,43.250)(14.371,43.284)(14.374,43.200)(14.377,43.140)(14.382,43.115)(14.387,43.100)(14.393,43.085)(14.398,43.078)(14.404,43.067)(14.409,43.058)(14.415,43.048)(14.420,43.040)(14.426,43.031)(14.431,43.045)(14.436,43.080)(14.440,43.160)(14.442,43.400)(14.444,43.716)(14.446,43.300)(14.449,43.050)(14.453,43.000)(14.457,43.020)(14.461,42.980)(14.465,43.000)(14.470,42.971)(14.474,42.990)(14.478,42.950)(14.482,42.980)(14.487,42.930)(14.492,42.960)(14.496,42.910)(14.499,43.050)(14.501,42.950)(14.505,42.915)(14.509,42.960)(14.514,42.920)(14.518,42.955)(14.522,42.900)(14.525,42.940)(14.529,42.890)(14.533,42.930)(14.536,42.899)(14.540,42.940)(14.544,42.960)(14.548,42.990)(14.552,43.000)(14.556,42.960)(14.560,42.940)(14.563,42.923)(14.567,42.900)(14.571,42.920)(14.575,42.870)(14.578,42.900)(14.580,42.860)
(14.600,nan)
(14.613,43.356)(14.616,43.330)(14.619,43.360)(14.622,43.320)(14.624,43.332)(14.627,43.300)(14.630,43.330)(14.633,43.290)(14.636,43.310)(14.640,43.270)(14.643,43.300)(14.646,43.284)(14.648,43.200)(14.650,42.950)(14.652,43.300)(14.654,43.500)(14.656,43.700)(14.658,44.200)(14.660,44.000)(14.662,44.200)(14.664,43.500)(14.666,43.300)(14.668,43.236)(14.672,43.270)(14.676,43.230)(14.680,43.265)(14.684,43.240)(14.688,43.275)(14.690,43.260)(14.694,43.290)(14.698,43.265)(14.702,43.295)(14.706,43.270)(14.710,43.300)(14.712,43.284)(14.716,43.265)(14.720,43.290)(14.724,43.255)(14.728,43.285)(14.732,43.250)(14.734,43.260)(14.738,43.285)(14.742,43.255)(14.746,43.290)(14.750,43.260)(14.754,43.290)(14.756,43.272)(14.760,43.300)(14.764,43.280)(14.768,43.310)(14.772,43.300)(14.775,43.350)(14.777,43.500)(14.779,43.800)(14.781,44.200)(14.783,44.200)(14.785,43.600)(14.788,43.350)(14.791,43.300)(14.795,43.275)(14.800,43.284)(14.804,43.250)(14.808,43.270)(14.812,43.235)(14.816,43.265)(14.820,43.230)(14.822,43.236)(14.826,43.260)(14.830,43.235)(14.834,43.265)(14.838,43.240)(14.840,43.350)(14.842,43.250)(14.844,43.260)(14.848,43.245)(14.852,43.275)(14.856,43.250)(14.860,43.285)(14.862,43.260)(14.866,43.284)(14.870,43.270)(14.874,43.300)(14.878,43.285)(14.882,43.310)(14.886,43.300)(14.888,43.308)(14.892,43.320)(14.896,43.315)(14.900,43.340)(14.904,43.335)(14.907,43.350)(14.910,43.356)(14.914,43.360)(14.918,43.375)(14.922,43.380)(14.926,43.395)(14.930,43.400)(14.932,43.404)(14.936,43.430)(14.939,43.470)(14.941,43.500)(14.943,43.524)
};
\addplot[green] coordinates {
(14.101,43.390)(14.105,43.410)(14.110,43.400)(14.115,43.415)(14.120,43.405)(14.125,43.412)(14.129,43.404)(14.134,43.402)(14.140,43.398)(14.145,43.396)(14.151,43.392)(14.156,43.388)(14.162,43.385)(14.167,43.382)(14.173,43.380)(14.178,43.385)(14.183,43.395)(14.189,43.404)(14.193,43.420)(14.197,43.440)(14.200,43.500)(14.202,43.580)(14.204,43.644)(14.205,43.520)(14.206,43.452)
(14.215,nan)
(14.226,43.356)(14.230,43.370)(14.235,43.382)(14.240,43.388)(14.245,43.392)(14.250,43.392)(14.256,43.390)(14.261,43.386)(14.267,43.384)(14.272,43.380)(14.278,43.378)(14.283,43.376)(14.289,43.372)(14.294,43.368)(14.300,43.364)(14.305,43.360)(14.311,43.356)(14.316,43.344)(14.321,43.350)(14.326,43.345)(14.332,43.356)
(14.345,nan)
(14.358,43.332)(14.362,43.345)(14.366,43.390)(14.369,43.440)(14.371,43.476)(14.374,43.420)(14.377,43.360)(14.382,43.332)(14.387,43.325)(14.393,43.322)(14.398,43.318)(14.404,43.308)(14.409,43.315)(14.415,43.318)(14.420,43.315)(14.426,43.320)(14.431,43.330)(14.436,43.380)(14.440,43.500)(14.442,43.700)(14.444,43.825)(14.446,43.550)(14.449,43.380)(14.453,43.332)(14.457,43.345)(14.461,43.360)(14.465,43.335)(14.470,43.380)(14.474,43.340)(14.478,43.370)(14.482,43.330)(14.487,43.355)(14.492,43.320)(14.496,43.360)(14.499,43.615)(14.501,43.350)(14.505,43.315)(14.509,43.355)(14.514,43.320)(14.518,43.360)(14.522,43.310)(14.525,43.345)(14.529,43.300)(14.533,43.340)(14.536,43.310)(14.540,43.360)(14.544,43.320)(14.548,43.350)(14.552,43.300)(14.556,43.345)(14.560,43.320)(14.564,43.355)(14.568,43.300)(14.572,43.330)(14.575,43.280)(14.578,43.200)(14.580,43.163)
(14.600,nan)
(14.613,43.430)(14.616,43.470)(14.619,43.500)(14.622,43.560)(14.624,43.548)(14.627,43.520)(14.630,43.500)(14.633,43.470)(14.636,43.490)(14.640,43.476)(14.643,43.520)(14.646,43.600)(14.649,43.680)(14.651,43.740)(14.653,43.800)(14.656,43.950)(14.658,44.200)(14.660,44.100)(14.662,44.200)(14.664,43.700)(14.666,43.600)(14.668,43.548)(14.672,43.520)(14.676,43.540)(14.680,43.510)(14.684,43.535)(14.688,43.560)(14.690,43.572)(14.694,43.550)(14.698,43.580)(14.702,43.560)(14.706,43.600)(14.710,43.575)(14.714,43.590)(14.718,43.565)(14.722,43.585)(14.726,43.560)(14.730,43.575)(14.734,43.548)(14.738,43.570)(14.742,43.555)(14.746,43.580)(14.750,43.560)(14.754,43.585)(14.758,43.565)(14.762,43.580)(14.766,43.570)(14.770,43.590)(14.774,43.600)(14.777,43.700)(14.779,43.900)(14.781,44.200)(14.783,44.200)(14.785,43.800)(14.788,43.700)(14.791,43.680)(14.795,43.660)(14.800,43.644)(14.804,43.660)(14.808,43.630)(14.812,43.650)(14.816,43.625)(14.820,43.645)(14.822,43.632)(14.826,43.640)(14.830,43.615)(14.834,43.635)(14.838,43.610)(14.842,43.630)(14.844,43.620)(14.848,43.600)(14.852,43.585)(14.855,43.572)(14.858,43.585)(14.862,43.600)(14.866,43.608)(14.870,43.630)(14.874,43.645)(14.878,43.660)(14.882,43.665)(14.886,43.680)(14.888,43.680)(14.891,43.760)(14.893,43.980)(14.895,43.700)(14.899,43.705)(14.903,43.720)(14.907,43.730)(14.910,43.740)(14.914,43.750)(14.918,43.760)(14.920,43.850)(14.921,43.990)(14.923,43.770)(14.927,43.780)(14.930,43.785)(14.932,43.788)(14.936,43.800)(14.939,43.805)(14.941,44.200)(14.943,43.812)
};
\addplot[blue] coordinates {
(14.101,43.110)(14.105,43.100)(14.110,43.098)(14.115,43.100)(14.120,43.095)(14.125,43.093)(14.129,43.091)(14.134,43.090)(14.140,43.085)(14.145,43.082)(14.151,43.079)(14.156,43.072)(14.162,43.062)(14.167,43.052)(14.173,43.043)(14.178,43.045)(14.183,43.050)(14.189,43.055)(14.193,43.070)(14.197,43.100)(14.200,43.150)(14.202,43.190)(14.204,43.212)(14.205,43.150)(14.206,43.100)
(14.215,nan)
(14.226,42.975)(14.230,42.980)(14.235,42.972)(14.240,42.978)(14.245,42.970)(14.250,42.971)(14.256,42.968)(14.261,42.966)(14.267,42.962)(14.272,42.959)(14.278,42.955)(14.283,42.948)(14.289,42.942)(14.294,42.935)(14.300,42.928)(14.305,42.918)(14.311,42.910)(14.316,42.899)(14.321,42.890)(14.326,42.878)(14.332,42.863)
(14.345,nan)
(14.358,42.971)(14.362,42.990)(14.366,43.050)(14.369,43.100)(14.371,43.115)(14.374,43.060)(14.377,43.010)(14.382,42.995)(14.387,42.980)(14.393,42.965)(14.398,42.955)(14.404,42.947)(14.409,42.955)(14.415,42.960)(14.420,42.965)(14.426,42.971)(14.431,42.990)(14.436,43.050)(14.440,43.200)(14.442,43.450)(14.444,43.692)(14.446,43.250)(14.449,43.030)(14.453,42.995)(14.457,43.030)(14.461,42.990)(14.465,43.030)(14.470,43.019)(14.474,43.050)(14.478,43.010)(14.482,43.055)(14.487,43.020)(14.492,43.043)(14.496,43.070)(14.499,43.500)(14.501,43.080)(14.505,43.030)(14.509,43.075)(14.514,43.067)(14.518,43.030)(14.522,43.070)(14.525,43.035)(14.529,43.065)(14.533,43.030)(14.536,43.043)(14.540,43.080)(14.544,43.060)(14.548,43.100)(14.552,43.090)(14.555,43.120)(14.558,43.115)(14.562,43.060)(14.565,43.030)(14.569,43.019)(14.572,43.040)(14.575,42.990)(14.578,43.000)(14.580,42.971)
(14.600,nan)
(14.613,43.404)(14.616,43.370)(14.619,43.410)(14.622,43.350)(14.624,43.356)(14.627,43.390)(14.630,43.350)(14.633,43.395)(14.636,43.360)(14.640,43.400)(14.643,43.370)(14.646,43.380)(14.649,43.450)(14.651,43.600)(14.653,43.700)(14.656,43.900)(14.658,44.200)(14.660,44.000)(14.662,44.200)(14.664,43.600)(14.666,43.400)(14.668,43.320)(14.672,43.350)(14.676,43.310)(14.680,43.345)(14.684,43.315)(14.688,43.350)(14.690,43.332)(14.694,43.360)(14.698,43.325)(14.702,43.360)(14.706,43.330)(14.710,43.365)(14.712,43.344)(14.716,43.320)(14.720,43.355)(14.724,43.320)(14.728,43.350)(14.732,43.320)(14.734,43.332)(14.738,43.360)(14.742,43.330)(14.746,43.365)(14.750,43.340)(14.754,43.370)(14.756,43.356)(14.760,43.380)(14.764,43.360)(14.768,43.390)(14.772,43.380)(14.775,43.450)(14.777,43.600)(14.779,43.900)(14.781,44.200)(14.783,44.200)(14.785,43.700)(14.788,43.450)(14.791,43.400)(14.795,43.390)(14.800,43.380)(14.804,43.410)(14.808,43.380)(14.812,43.420)(14.816,43.400)(14.820,43.440)(14.822,43.428)(14.826,43.400)(14.830,43.430)(14.834,43.395)(14.838,43.420)(14.840,43.500)(14.842,43.400)(14.844,43.404)(14.848,43.430)(14.852,43.400)(14.856,43.440)(14.860,43.410)(14.864,43.445)(14.866,43.428)(14.870,43.450)(14.874,43.440)(14.878,43.470)(14.882,43.460)(14.886,43.480)(14.888,43.476)(14.891,43.600)(14.893,43.850)(14.895,43.480)(14.899,43.490)(14.903,43.495)(14.907,43.500)(14.910,43.500)(14.914,43.520)(14.918,43.530)(14.920,43.650)(14.921,43.800)(14.923,43.540)(14.927,43.560)(14.930,43.580)(14.932,43.596)(14.936,43.640)(14.939,43.720)(14.941,43.780)(14.943,43.837)
};
\end{axis}

% titles and axis labels
\node[font=\fontsize{7.5}{9}\selectfont] at (210pt,387.5pt) {Ark 564 (z=0.025)};
\node[font=\fontsize{7.5}{9}\selectfont] at (210pt,268pt) {Mrk 79 (z=0.022)};
\node[font=\fontsize{7.5}{9}\selectfont] at (210pt,150pt) {NGC 5548 (z=0.017)};
\node[font=\fontsize{7.5}{9}\selectfont] at (210pt,26pt) {log\ \ $\nu_{\mathrm{rest}}$\ \ [Hz]};
\node[font=\fontsize{7.5}{9}\selectfont, rotate=90] at (20pt,221pt) {log\ \ $\nu$\ \ L$_{\nu}$\ \ [erg s$^{-1}$]};
\end{tikzpicture}
\end{document}
